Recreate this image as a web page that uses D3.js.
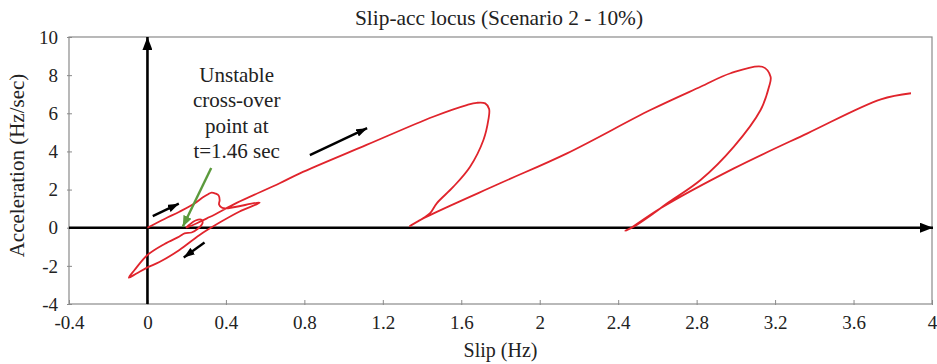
<!DOCTYPE html>
<html>
<head>
<meta charset="utf-8">
<script src="https://cdn.jsdelivr.net/npm/d3@7"></script>
<style>
  html, body { margin: 0; padding: 0; background: #fff; }
  svg { display: block; }
  svg text { font-family: "Liberation Serif", "DejaVu Serif", serif !important; fill: #222; }
</style>
</head>
<body>
<svg id="chart" width="937" height="364"></svg>
<script>
// ---- data ----
const xTicks = [-0.4, 0, 0.4, 0.8, 1.2, 1.6, 2, 2.4, 2.8, 3.2, 3.6, 4];
const xTickLabels = ["-0.4", "0", "0.4", "0.8", "1.2", "1.6", "2", "2.4", "2.8", "3.2", "3.6", "4"];
const yTicks = [-4, -2, 0, 2, 4, 6, 8, 10];
const yTickLabels = ["-4", "-2", "0", "2", "4", "6", "8", "10"];

// slip-acceleration locus (in time order)
const slip = [
  0, 0.087, 0.163, 0.240, 0.281, 0.307, 0.327, 0.347, 0.363, 0.368, 0.365, 0.378, 0.398, 0.572,
  0.470, 0.368, 0.266, 0.163, 0.061, 0, -0.056, -0.095,
  -0.066, 0, 0.087, 0.163, 0.189,
  0.225, 0.255, 0.281, 0.276, 0.245, 0.215, 0.199,
  0.317, 0.455, 0.674, 0.777, 1.117, 1.457, 1.628, 1.679, 1.722, 1.742, 1.738, 1.713, 1.645, 1.560, 1.475, 1.441, 1.390, 1.338,
  1.424, 1.798, 2.139, 2.564, 2.820, 2.973, 3.135, 3.177, 3.169, 3.126, 2.990, 2.820, 2.650, 2.581, 2.479, 2.437,
  2.462, 2.616, 2.990, 3.365, 3.739, 3.893
];
const acc = [
  0, 0.46, 0.84, 1.27, 1.58, 1.74, 1.84, 1.79, 1.69, 1.45, 1.22, 1.06, 1.01, 1.32,
  0.85, 0.27, -0.38, -1.17, -1.80, -2.08, -2.40, -2.62,
  -2.22, -1.43, -0.85, -0.46, -0.30,
  -0.25, -0.07, 0.25, 0.42, 0.38, 0.17, 0.01,
  0.56, 1.30, 2.33, 2.85, 4.34, 5.82, 6.43, 6.55, 6.52, 6.22, 5.65, 4.60, 3.20, 2.15, 1.28, 0.76, 0.40, 0.09,
  0.58, 2.33, 3.90, 6.17, 7.39, 8.10, 8.44, 7.92, 7.39, 6.17, 4.25, 2.50, 1.28, 0.76, 0.05, -0.16,
  -0.03, 1.02, 3.11, 4.95, 6.73, 7.05
];

// direction arrows: [x1, y1, x2, y2] in data units (head at x2,y2)
const dirArrows = [
  [0.027, 0.61, 0.160, 1.26],
  [0.291, -0.78, 0.185, -1.56],
  [0.828, 3.81, 1.120, 5.22]
];
// annotation pointer (green)
const pointer = [0.325, 3.13, 0.180, 0.05];
const noteLines = ["Unstable", "cross-over", "point at", "t=1.46 sec"];
const notePos = [0.455, 7.64];

const title = "Slip-acc locus (Scenario 2 - 10%)";
const xLabel = "Slip (Hz)";
const yLabel = "Acceleration (Hz/sec)";

// ---- layout ----
const FONT = '"Liberation Serif", "DejaVu Serif", serif';
const svg = d3.select("#chart");
const L = 69, R = 932, T = 37, B = 304;
const x = d3.scaleLinear().domain([-0.4, 4]).range([L, R]);
const y = d3.scaleLinear().domain([-4, 10]).range([B, T]);

const defs = svg.append("defs");
function marker(id, color, w, h) {
  defs.append("marker").attr("id", id)
    .attr("viewBox", `0 0 ${w} ${h}`).attr("refX", w).attr("refY", h / 2)
    .attr("markerWidth", w).attr("markerHeight", h)
    .attr("markerUnits", "userSpaceOnUse").attr("orient", "auto")
    .append("path").attr("d", `M0,0 L${w},${h / 2} L0,${h} Z`).attr("fill", color);
}
marker("ahBig", "#000", 13, 10);
marker("ahSmall", "#000", 11, 8);
marker("ahGreen", "#5b9a3c", 11, 9);

// frame
svg.append("rect").attr("x", L).attr("y", T).attr("width", R - L).attr("height", B - T)
  .attr("fill", "none").attr("stroke", "#8a8a8a").attr("stroke-width", 1.2);

// ticks
const xAxis = d3.axisBottom(x).tickValues(xTicks).tickSize(0).tickFormat((d, i) => xTickLabels[i]);
const gx = svg.append("g").attr("transform", `translate(0,${B})`).call(xAxis)
  .attr("font-family", FONT);
gx.select(".domain").remove();
gx.selectAll("text").attr("dy", 0).attr("y", 25).style("font-size", "19px").attr("fill", "#222");
gx.selectAll(".tick").append("line").attr("y1", -4).attr("y2", 1).attr("stroke", "#8a8a8a");

const yAxis = d3.axisLeft(y).tickValues(yTicks).tickSize(0).tickFormat((d, i) => yTickLabels[i]);
const gy = svg.append("g").attr("transform", `translate(${L},0)`).call(yAxis)
  .attr("font-family", FONT);
gy.select(".domain").remove();
gy.selectAll("text").attr("x", -11).attr("dy", "0.33em").style("font-size", "19px").attr("fill", "#222");
gy.selectAll(".tick").append("line").attr("x1", -2).attr("x2", 3).attr("stroke", "#8a8a8a");

// black axes with arrows
svg.append("line").attr("x1", x(-0.4)).attr("x2", R + 1).attr("y1", y(0)).attr("y2", y(0))
  .attr("stroke", "#000").attr("stroke-width", 2.6).attr("marker-end", "url(#ahBig)");
svg.append("line").attr("x1", x(0)).attr("x2", x(0)).attr("y1", B).attr("y2", T)
  .attr("stroke", "#000").attr("stroke-width", 2.6).attr("marker-end", "url(#ahBig)");

// locus
const pts = slip.map((s, i) => [s, acc[i]]);
svg.append("path").datum(pts)
  .attr("d", d3.line().x(d => x(d[0])).y(d => y(d[1])).curve(d3.curveCatmullRom.alpha(0.5)))
  .attr("fill", "none").attr("stroke", "#e0242c").attr("stroke-width", 1.8)
  .attr("stroke-linejoin", "round");

// direction arrows
svg.selectAll(".dir").data(dirArrows).enter().append("line")
  .attr("x1", d => x(d[0])).attr("y1", d => y(d[1]))
  .attr("x2", d => x(d[2])).attr("y2", d => y(d[3]))
  .attr("stroke", "#000").attr("stroke-width", 2.4).attr("marker-end", "url(#ahSmall)");

// green pointer
svg.append("line")
  .attr("x1", x(pointer[0])).attr("y1", y(pointer[1]))
  .attr("x2", x(pointer[2])).attr("y2", y(pointer[3]))
  .attr("stroke", "#5b9a3c").attr("stroke-width", 2.4).attr("marker-end", "url(#ahGreen)");

// annotation text
const note = svg.append("text").attr("text-anchor", "middle").attr("font-family", FONT)
  .attr("x", x(notePos[0])).attr("y", y(notePos[1])).style("font-size", "21px");
noteLines.forEach((t, i) => {
  note.append("tspan").attr("x", x(notePos[0])).attr("dy", i === 0 ? 0 : 25.3).text(t);
});

// titles
svg.append("text").attr("x", 499).attr("y", 25).attr("text-anchor", "middle").attr("font-family", FONT)
  .style("font-size", "21.4px").text(title);
svg.append("text").attr("x", (L + R) / 2).attr("y", 357).attr("text-anchor", "middle").attr("font-family", FONT)
  .style("font-size", "20px").text(xLabel);
svg.append("text").attr("transform", `translate(24,${(T + B) / 2 - 5}) rotate(-90)`).attr("font-family", FONT)
  .attr("text-anchor", "middle").style("font-size", "21px").text(yLabel);
</script>
</body>
</html>
